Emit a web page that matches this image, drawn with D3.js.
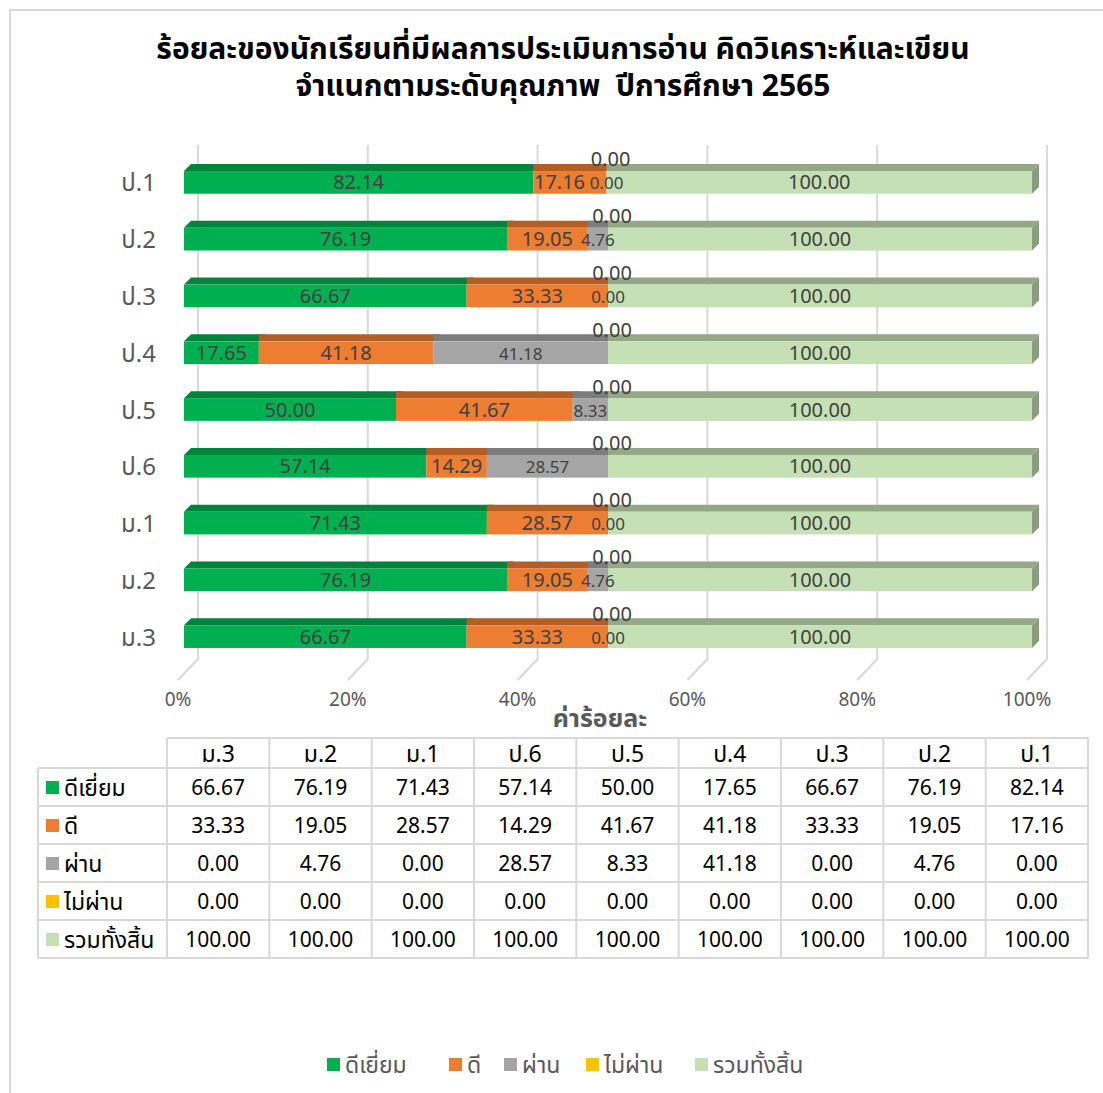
<!DOCTYPE html>
<html>
<head>
<meta charset="utf-8">
<script src="https://cdn.jsdelivr.net/npm/d3@7"></script>
<style>
  body { margin: 0; background: #fff; }
  text { font-family: Tahoma, "Leelawadee UI", "Noto Sans Thai", "Loma", "Garuda", sans-serif; }
</style>
</head>
<body>
<script>
const width = 1103;
const height = 1093;

// data
const grades = ['ป.1', 'ป.2', 'ป.3', 'ป.4', 'ป.5', 'ป.6', 'ม.1', 'ม.2', 'ม.3'];
const seriesNames = ['ดีเยี่ยม', 'ดี', 'ผ่าน', 'ไม่ผ่าน', 'รวมทั้งสิ้น'];
const excellent = [82.14, 76.19, 66.67, 17.65, 50.00, 57.14, 71.43, 76.19, 66.67];
const good = [17.16, 19.05, 33.33, 41.18, 41.67, 14.29, 28.57, 19.05, 33.33];
const pass = [0.00, 4.76, 0.00, 41.18, 8.33, 28.57, 0.00, 4.76, 0.00];
const fail = [0.00, 0.00, 0.00, 0.00, 0.00, 0.00, 0.00, 0.00, 0.00];
const total = [100.00, 100.00, 100.00, 100.00, 100.00, 100.00, 100.00, 100.00, 100.00];
const ticks = [0, 0.2, 0.4, 0.6, 0.8, 1];
const tableOrder = ['ม.3', 'ม.2', 'ม.1', 'ป.6', 'ป.5', 'ป.4', 'ป.3', 'ป.2', 'ป.1'];

const colors = ['#00B050', '#ED7D31', '#A5A5A5', '#FFC000', '#C5E0B4'];
const topColors = ['#00843C', '#B25E25', '#7C7C7C', '#BF9000', '#94A887'];

const seriesValues = [excellent, good, pass, fail, total];

// rows for d3.stack (100% stacked)
const rows = grades.map((g, i) => {
    const row = { grade: g };
    const sum = d3.sum(seriesValues, (s) => s[i]);
    seriesNames.forEach((s, k) => row[s] = seriesValues[k][i] / sum);
    return row;
});
const stacked = d3.stack().keys(seriesNames)(rows);

const svg = d3.select('body').append('svg').attr('width', width).attr('height', height);

// chart border
svg.append('rect')
    .attr('x', 10).attr('y', 10)
    .attr('width', width + 20).attr('height', height + 20)
    .attr('fill', 'none').attr('stroke', '#d9d9d9').attr('stroke-width', 2);

// title
svg.append('text')
    .attr('x', 563).attr('y', 59)
    .attr('text-anchor', 'middle')
    .attr('font-size', 30).attr('font-weight', 'bold').attr('fill', '#000')
    .text('ร้อยละของนักเรียนที่มีผลการประเมินการอ่าน คิดวิเคราะห์และเขียน');
svg.append('text')
    .attr('x', 563).attr('y', 96)
    .attr('text-anchor', 'middle')
    .attr('font-size', 30).attr('font-weight', 'bold').attr('fill', '#000')
    .style('white-space', 'pre')
    .text('จำแนกตามระดับคุณภาพ  ปีการศึกษา 2565');

// scales
const x = d3.scaleLinear().domain([0, 1]).range([184, 1032]);
const xTick = d3.scaleLinear().domain([0, 1]).range([178, 1027]);
const y = d3.scaleBand().domain(grades).range([154, 665]).paddingInner(0.6).paddingOuter(0.3);

// gridlines (back wall + floor)
const grid = svg.append('g');
grid.selectAll('path')
    .data(ticks)
    .join('path')
    .attr('d', (d) => `M${xTick(d) + 20},145 L${xTick(d) + 20},659 L${xTick(d)},680`)
    .attr('fill', 'none')
    .attr('stroke', '#d9d9d9')
    .attr('stroke-width', 2);

// tick labels
svg.append('g')
    .selectAll('text')
    .data(ticks)
    .join('text')
    .attr('x', (d) => xTick(d))
    .attr('y', 706)
    .attr('text-anchor', 'middle')
    .attr('font-size', 19)
    .attr('fill', '#595959')
    .text(d3.format('.0%'));

svg.append('text')
    .attr('x', 600).attr('y', 727)
    .attr('text-anchor', 'middle')
    .attr('font-size', 25).attr('font-weight', 'bold')
    .attr('fill', '#595959')
    .text('ค่าร้อยละ');

// category labels
svg.append('g')
    .selectAll('text')
    .data(grades)
    .join('text')
    .attr('x', 156)
    .attr('y', (d) => y(d) + y.bandwidth() / 2 + 9)
    .attr('text-anchor', 'end')
    .attr('font-size', 24)
    .attr('fill', '#595959')
    .text((d) => d);

// bars with a bit of 3D
const depthX = 7;
const depthY = 7;
const bars = svg.append('g');
stacked.forEach((layer, k) => {
    const g = bars.append('g');
    // top faces
    g.selectAll('path.top')
        .data(layer)
        .join('path')
        .attr('class', 'top')
        .attr('d', (d) => {
            const x0 = x(d[0]), x1 = x(d[1]), yt = y(d.data.grade);
            if (x1 - x0 < 0.1) return null;
            const bev = k === 0 ? depthX : 0;
            return `M${x0},${yt} L${x0 + bev},${yt - depthY} L${x1 + depthX},${yt - depthY} L${x1},${yt} Z`;
        })
        .attr('fill', topColors[k]);
    // front faces
    g.selectAll('rect')
        .data(layer)
        .join('rect')
        .attr('x', (d) => x(d[0]))
        .attr('y', (d) => y(d.data.grade))
        .attr('width', (d) => Math.max(0, x(d[1]) - x(d[0])))
        .attr('height', y.bandwidth())
        .attr('fill', colors[k]);
    // end cap on the last series
    if (k === seriesNames.length - 1) {
        g.selectAll('path.side')
            .data(layer)
            .join('path')
            .attr('class', 'side')
            .attr('d', (d) => {
                const x1 = x(d[1]), yt = y(d.data.grade);
                return `M${x1},${yt} L${x1 + depthX},${yt - depthY} L${x1 + depthX},${yt + y.bandwidth() - depthY} L${x1},${yt + y.bandwidth()} Z`;
            })
            .attr('fill', '#8A9E7E');
    }
});

// data labels
const labelSize = (k) => k === 2 ? 17 : 20;
const labelX = (d, k, i) => {
    const x0 = x(d[0]), x1 = x(d[1]);
    if (x1 - x0 < 1) return x0 + (k === 3 ? 4 : 0);
    let cx = (x0 + x1) / 2;
    if (k === 1) {
        // keep the orange label clear of the grey label next to it
        const g = stacked[2][i];
        const gx = (x(g[0]) + x(g[1])) / 2;
        const gw = x(g[1]) - x(g[0]);
        if (gw < 30) cx = Math.min(cx, gx - 18 - 4 - 25);
    }
    return cx;
};
const labels = svg.append('g');
stacked.forEach((layer, k) => {
    labels.append('g')
        .selectAll('text')
        .data(layer)
        .join('text')
        .attr('x', (d, i) => labelX(d, k, i))
        .attr('y', (d) => y(d.data.grade) + y.bandwidth() / 2 + 7 + (k === 3 ? -23 : 0))
        .attr('text-anchor', 'middle')
        .attr('font-size', labelSize(k))
        .attr('fill', '#404040')
        .text((d, i) => seriesValues[k][i].toFixed(2));
});

// data table
const tx0 = 38, tcol0 = 167, tx1 = 1088;
const colW = (tx1 - tcol0) / tableOrder.length;
const headerTop = 738, headerH = 30, rowH = 38;
const table = svg.append('g');

const tableRows = seriesNames.map((s, k) => tableOrder.map((g) => seriesValues[k][grades.indexOf(g)]));

// header
table.selectAll('text.head')
    .data(tableOrder)
    .join('text')
    .attr('class', 'head')
    .attr('x', (d, i) => tcol0 + colW * (i + 0.5))
    .attr('y', headerTop + 24)
    .attr('text-anchor', 'middle')
    .attr('font-size', 23)
    .attr('fill', '#000')
    .text((d) => d);

const rowG = table.selectAll('g.row')
    .data(tableRows)
    .join('g')
    .attr('class', 'row')
    .attr('transform', (d, k) => `translate(0,${headerTop + headerH + k * rowH})`);

rowG.append('rect')
    .attr('x', 46).attr('y', 13)
    .attr('width', 13).attr('height', 13)
    .attr('fill', (d, k) => colors[k]);

rowG.append('text')
    .attr('x', 64).attr('y', 28)
    .attr('font-size', 23)
    .attr('fill', '#000')
    .text((d, k) => seriesNames[k]);

rowG.selectAll('text.val')
    .data((d) => d)
    .join('text')
    .attr('class', 'val')
    .attr('x', (d, i) => tcol0 + colW * (i + 0.5))
    .attr('y', 27)
    .attr('text-anchor', 'middle')
    .attr('font-size', 21)
    .attr('fill', '#000')
    .text((d) => d.toFixed(2));

// table lines
const tableBottom = headerTop + headerH + rowH * seriesNames.length;
const hLines = [headerTop].concat(d3.range(seriesNames.length + 1).map((k) => headerTop + headerH + k * rowH));
table.selectAll('line.h')
    .data(hLines)
    .join('line')
    .attr('class', 'h')
    .attr('x1', (d, i) => i === 0 ? tcol0 : tx0)
    .attr('x2', tx1)
    .attr('y1', (d) => d).attr('y2', (d) => d)
    .attr('stroke', '#d9d9d9').attr('stroke-width', 2);
table.selectAll('line.v')
    .data(d3.range(tableOrder.length + 1))
    .join('line')
    .attr('class', 'v')
    .attr('x1', (d) => tcol0 + colW * d).attr('x2', (d) => tcol0 + colW * d)
    .attr('y1', headerTop).attr('y2', tableBottom)
    .attr('stroke', '#d9d9d9').attr('stroke-width', 2);
table.append('line')
    .attr('x1', tx0).attr('x2', tx0)
    .attr('y1', headerTop + headerH).attr('y2', tableBottom)
    .attr('stroke', '#d9d9d9').attr('stroke-width', 2);

// legend
const legendX = [327, 449, 504, 586, 695];
const legend = svg.append('g')
    .selectAll('g')
    .data(seriesNames)
    .join('g')
    .attr('transform', (d, k) => `translate(${legendX[k]},1058)`);
legend.append('rect')
    .attr('width', 13).attr('height', 13)
    .attr('fill', (d, k) => colors[k]);
legend.append('text')
    .attr('x', 18).attr('y', 15)
    .attr('font-size', 23)
    .attr('fill', '#595959')
    .text((d) => d);
</script>
</body>
</html>
